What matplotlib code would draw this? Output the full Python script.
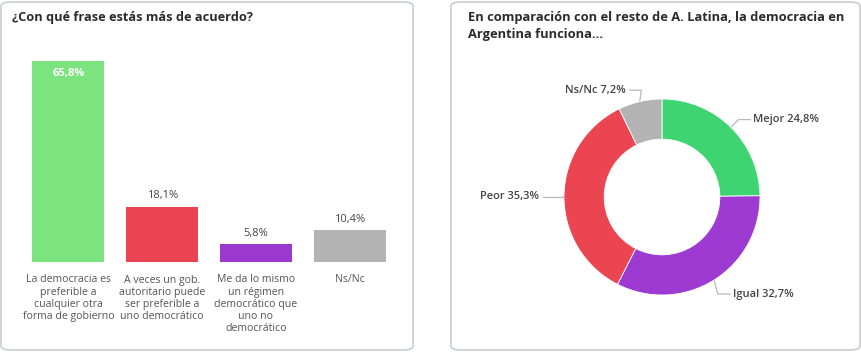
import matplotlib
matplotlib.use("Agg")
import matplotlib.pyplot as plt
from matplotlib.patches import FancyBboxPatch
import numpy as np

plt.rcParams['font.family'] = ['Open Sans', 'DejaVu Sans']

# Data
bar_title = "¿Con qué frase estás más de acuerdo?"
bar_categories = [
    "La democracia es\npreferible a\ncualquier otra\nforma de gobierno",
    "A veces un gob.\nautoritario puede\nser preferible a\nuno democrático",
    "Me da lo mismo\nun régimen\ndemocrático que\nuno no\ndemocrático",
    "Ns/Nc",
]
bar_values = [65.8, 18.1, 5.8, 10.4]
bar_labels = ["65,8%", "18,1%", "5,8%", "10,4%"]
bar_colors = ["#7be47e", "#ea4452", "#9b38cf", "#b3b3b3"]

pie_title = "En comparación con el resto de A. Latina, la democracia en\nArgentina funciona..."
pie_categories = ["Mejor", "Igual", "Peor", "Ns/Nc"]
pie_values = [24.8, 32.7, 35.3, 7.2]
pie_labels = ["Mejor 24,8%", "Igual 32,7%", "Peor 35,3%", "Ns/Nc 7,2%"]
pie_colors = ["#3fd472", "#9d3ad2", "#eb4552", "#b3b3b3"]

W, H = 862, 353
fig = plt.figure(figsize=(W / 100, H / 100), dpi=100)
fig.patch.set_facecolor("white")

def px(x, y):
    return x / W, 1 - y / H

# Cards
for (x0, x1) in [(1, 413), (451, 860)]:
    card = FancyBboxPatch(px(x0, 350), (x1 - x0) / W, 348 / H,
                          boxstyle="round,pad=0,rounding_size=0.012",
                          transform=fig.transFigure, facecolor="none",
                          edgecolor="#c9ccd1", linewidth=1.2, zorder=-10)
    fig.patches.append(card)

# Titles
fig.text(*px(12, 17), bar_title, fontsize=9.2, fontweight="bold",
         color="#2b2b2b", va="center", ha="left")
fig.text(*px(468, 26), pie_title, fontsize=9.3, fontweight="bold",
         color="#2b2b2b", va="center", ha="left", linespacing=1.45)

# Bar chart
left_px, right_px = 21.5, 396.5
bottom_px, top_px = 262, 61
ax = fig.add_axes([left_px / W, 1 - bottom_px / H,
                   (right_px - left_px) / W, (bottom_px - top_px) / H])
x = np.arange(len(bar_values))
ax.bar(x, bar_values, width=0.77, color=bar_colors)
ax.set_xlim(-0.5, len(bar_values) - 0.5)
ax.set_ylim(0, max(bar_values))
ax.axis("off")
for i, (v, lab) in enumerate(zip(bar_values, bar_labels)):
    if i == 0:
        ax.annotate(lab, (i, v), xytext=(0, -9), textcoords="offset points",
                    ha="center", va="center", fontsize=8, color="white",
                    fontweight="bold")
    else:
        ax.annotate(lab, (i, v), xytext=(0, 8), textcoords="offset points",
                    ha="center", va="center", fontsize=8, color="#444444")
    ax.annotate(bar_categories[i], (i, 0), xytext=(0, -9),
                textcoords="offset points", ha="center", va="top",
                fontsize=7.6, color="#555555", linespacing=1.15,
                annotation_clip=False)

# Donut chart
cx, cy, r = 662, 197, 98
half = 140
ax2 = fig.add_axes([(cx - half) / W, 1 - (cy + half) / H, 2 * half / W, 2 * half / H])
ax2.pie(pie_values, colors=pie_colors, startangle=90, counterclock=False,
        radius=1, wedgeprops=dict(width=0.41, edgecolor="white", linewidth=0.6))
lim = half / r
ax2.set_xlim(-lim, lim)
ax2.set_ylim(-lim, lim)
ax2.set_aspect("equal")
ax2.axis("off")

# label positions (data units) & connector geometry
cum = np.cumsum([0] + pie_values[:-1])
mids = [(c + v / 2) / 100 * 360 for c, v in zip(cum, pie_values)]
label_specs = [
    (0.93, 0.79, "left"),
    (0.72, -0.99, "left"),
    (-1.25, 0.0, "right"),
    (-0.37, 1.09, "right"),
]
for m, lab, (lx, ly, ha) in zip(mids, pie_labels, label_specs):
    ang = np.deg2rad(90 - m)
    sx, sy = np.cos(ang) * 1.01, np.sin(ang) * 1.01
    ex = lx - 0.03 if ha == "left" else lx + 0.04
    bx = ex - 0.12 if ha == "left" else ex + 0.12
    if ha == "right" and abs(ly) < 0.05:
        bx = sx
    ax2.plot([sx, bx, ex], [sy, ly, ly], color="#b8b8b8", lw=0.9,
             clip_on=False)
    ax2.text(lx, ly, lab, ha=ha, va="center", fontsize=8, color="#444444",
             fontweight="semibold")

fig.savefig("out.png", dpi=100)
